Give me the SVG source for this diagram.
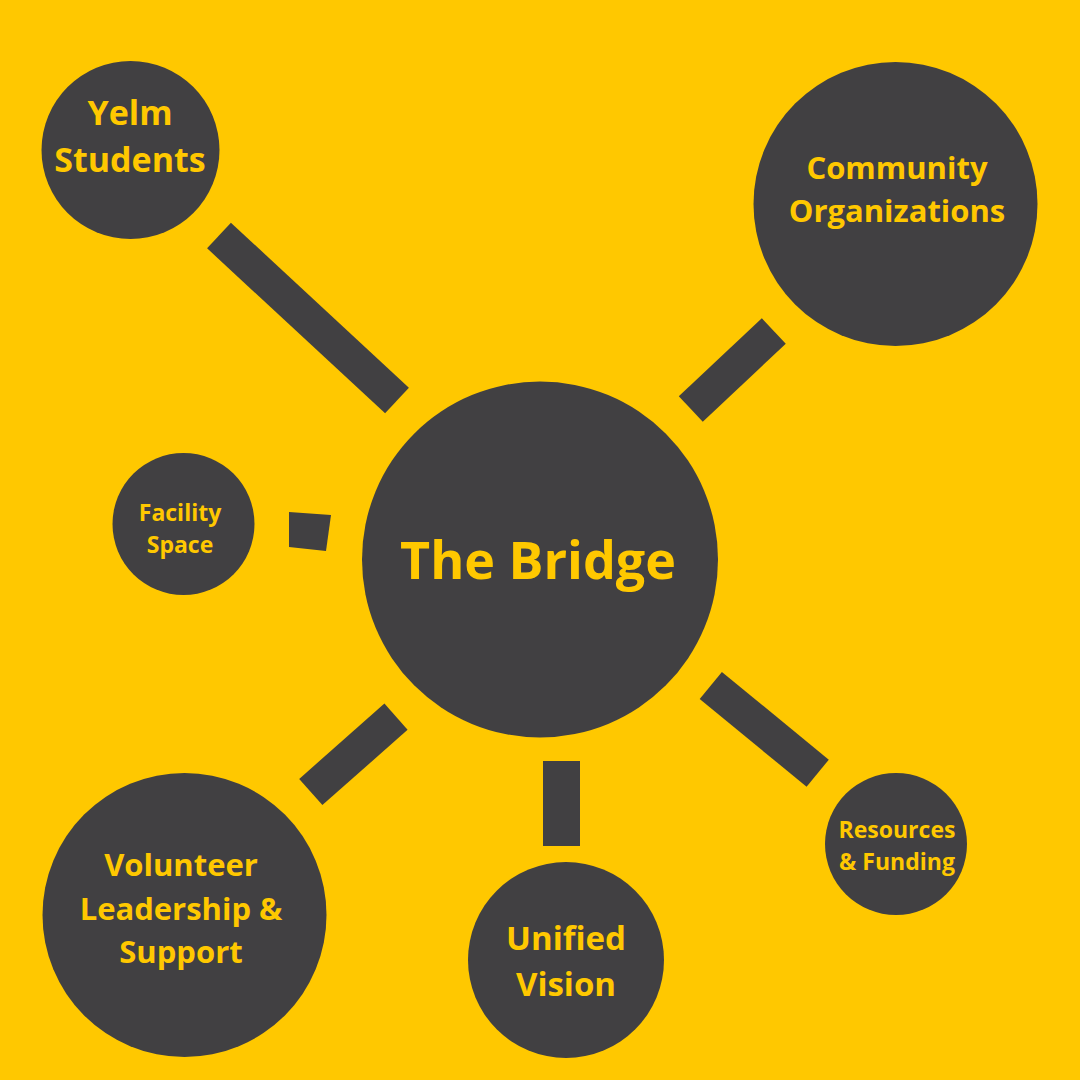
<svg xmlns="http://www.w3.org/2000/svg" width="1080" height="1080" viewBox="0 0 1080 1080">
  <style>
    .node { fill: #414042; }
    .lbl { fill: #FFC800; font-family: "Open Sans", "DejaVu Sans", sans-serif; font-weight: 700; text-anchor: middle; }
    .conn { stroke: #414042; stroke-width: 35; fill: none; stroke-linecap: butt; }
  </style>
  <rect width="1080" height="1080" fill="#FFC800"/>
  <g id="connectors">
    <line class="conn" x1="219" y1="235.5" x2="397" y2="400.5"/>
    <line class="conn" x1="773.8" y1="331" x2="690.8" y2="409"/>
    <polygon fill="#414042" points="289,512 331,515 326,551 289,547"/>
    <line class="conn" x1="396" y1="716.7" x2="310.8" y2="792"/>
    <rect fill="#414042" x="543" y="761" width="37" height="85"/>
    <line class="conn" x1="710.8" y1="685.5" x2="817.7" y2="773.2"/>
  </g>
  <g id="yelm-students">
    <circle class="node" cx="130.5" cy="150" r="89"/>
    <text class="lbl" font-size="34" x="130" y="125">Yelm</text>
    <text class="lbl" font-size="34" x="130" y="172">Students</text>
  </g>
  <g id="community-organizations">
    <circle class="node" cx="895.5" cy="204" r="142"/>
    <text class="lbl" font-size="31" x="897" y="179">Community</text>
    <text class="lbl" font-size="31" x="897" y="222">Organizations</text>
  </g>
  <g id="facility-space">
    <circle class="node" cx="183.5" cy="524" r="71"/>
    <text class="lbl" font-size="23" x="180" y="521">Facility</text>
    <text class="lbl" font-size="23" x="180" y="553">Space</text>
  </g>
  <g id="the-bridge">
    <circle class="node" cx="540" cy="559.5" r="178"/>
    <text class="lbl" font-size="52" x="538" y="579">The Bridge</text>
  </g>
  <g id="volunteer-leadership">
    <circle class="node" cx="184.5" cy="915" r="142"/>
    <text class="lbl" font-size="31" x="181" y="876">Volunteer</text>
    <text class="lbl" font-size="31" x="181" y="920">Leadership &amp;</text>
    <text class="lbl" font-size="31" x="181" y="963">Support</text>
  </g>
  <g id="unified-vision">
    <circle class="node" cx="566" cy="960" r="98"/>
    <text class="lbl" font-size="33" x="566" y="950">Unified</text>
    <text class="lbl" font-size="33" x="566" y="996">Vision</text>
  </g>
  <g id="resources-funding">
    <circle class="node" cx="896" cy="844" r="71"/>
    <text class="lbl" font-size="23" x="897" y="838">Resources</text>
    <text class="lbl" font-size="23" x="897" y="870">&amp; Funding</text>
  </g>
</svg>
